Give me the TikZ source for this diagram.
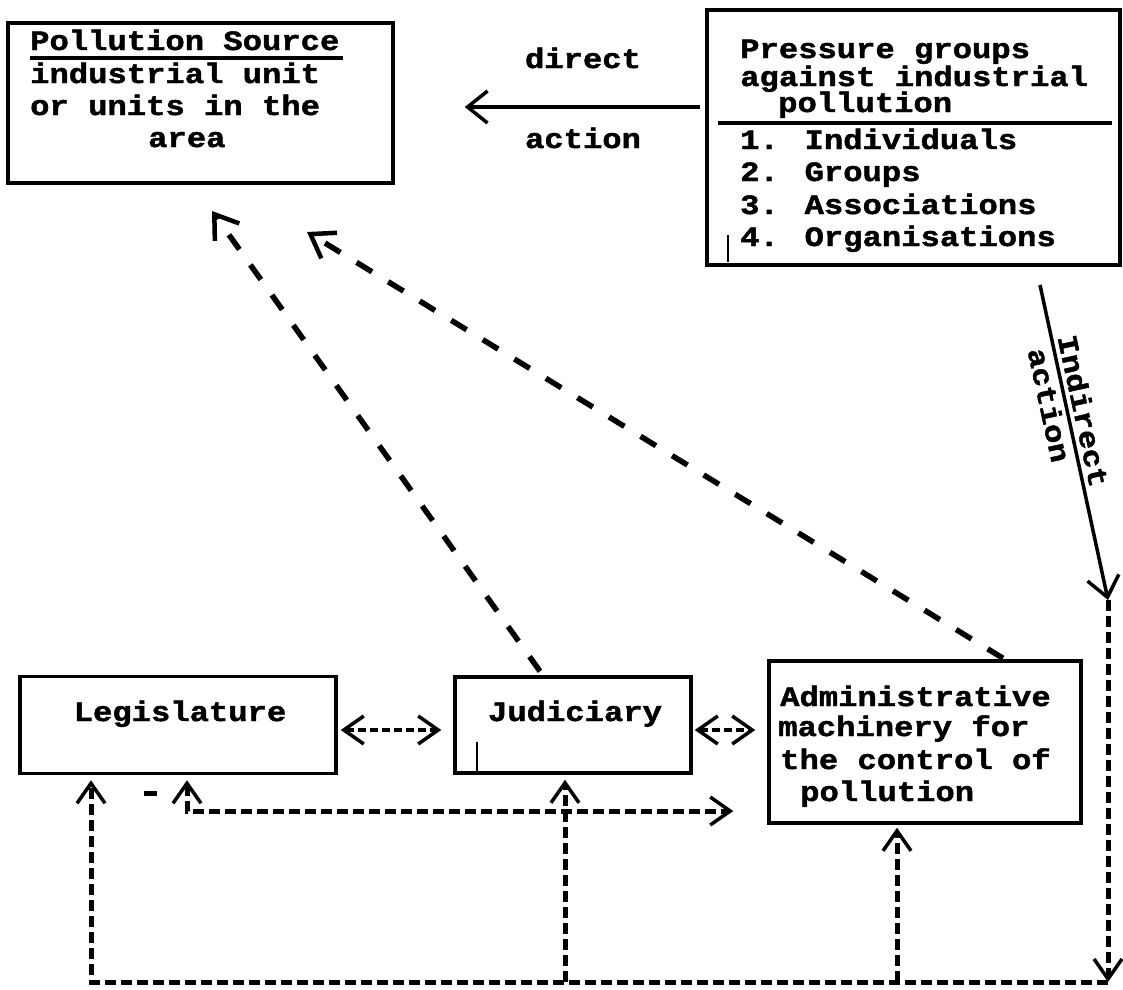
\documentclass[tikz,border=0pt]{standalone}
\usepackage{fontspec}
\newfontfamily\tw[FakeStretch=1.15,FakeBold=1.6]{Liberation Mono}
\usetikzlibrary{arrows.meta,calc}
\begin{document}
\begin{tikzpicture}[x=1pt,y=-1pt,
  box/.style={draw,line width=3.5pt,inner sep=0pt},
  txt/.style={font={\tw\bfseries\fontsize{28pt}{30pt}\selectfont},inner sep=0pt,anchor=base west},
  ctxt/.style={font={\tw\bfseries\fontsize{28pt}{30pt}\selectfont},inner sep=0pt},
  sol/.style={line width=3.5pt,-{Straight Barb[length=20pt,width=32pt]}},
  dsh/.style={line width=5pt,dash pattern=on 11pt off 5pt},
  dsm/.style={line width=4pt,dash pattern=on 8pt off 4pt},
  diag/.style={line width=5.5pt,dash pattern=on 18pt off 19pt},
  tipu/.style={-{Straight Barb[length=20pt,width=28pt,line width=3.5pt]}},
  tipb/.style={{Straight Barb[length=20pt,width=28pt,line width=3.5pt]}-{Straight Barb[length=20pt,width=28pt,line width=3.5pt]}},
  tipd/.style={-{Straight Barb[length=22pt,width=30pt,line width=4.5pt]}},
  tick/.style={line width=2pt}
]
\useasboundingbox[fill=white] (0,0) rectangle (1123,989);

% boxes
\node[box,minimum width=385pt,minimum height=160pt] (ps) at (200.5,103) {};
\node[box,minimum width=413pt,minimum height=255pt] (pg) at (913.5,137.5) {};
\node[box,minimum width=316pt,minimum height=97pt] (leg) at (178,725) {};
\node[box,minimum width=236pt,minimum height=96pt] (jud) at (573,725) {};
\node[box,minimum width=312pt,minimum height=162pt] (admin) at (925,742) {};

% texts
\node[txt] (ps1) at (30,50) {Pollution Source};
\draw[line width=3.5pt] (30,58) -- (343,58);
\node[txt] (ps2) at (30,83) {industrial unit};
\node[txt] (ps3) at (30,115) {or units in the};
\node[txt] (ps4) at (148,147) {area};

\node[txt] (pg1) at (740,58) {Pressure groups};
\node[txt] (pg2) at (740,86) {against industrial};
\node[txt] (pg3) at (778,112) {pollution};
\draw[line width=3.5pt] (718,123) -- (1112,123);
\node[txt] (pg4) at (740,149) {1. Individuals};
\node[txt] (pg5) at (740,181) {2. Groups};
\node[txt] (pg6) at (740,214) {3. Associations};
\node[txt] (pg7) at (740,246) {4. Organisations};
\draw[tick] (728,235) -- (728,262);

\node[txt,anchor=base] (lt) at (180,721) {Legislature};
\node[txt,anchor=base] (jt) at (575,721) {Judiciary};
\draw[tick] (477,742) -- (477,771);
\node[txt] (a1) at (780,706) {Administrative};
\node[txt] (a2) at (778,736) {machinery for};
\node[txt] (a3) at (780,769) {the control of};
\node[txt] (a4) at (800,801) {pollution};

% coordinates
\coordinate (yd) at (0,107);
\coordinate (ya) at (0,730);
\coordinate (ia) at (1040,285);
\coordinate (tr) at (1108,600);
\coordinate (br) at (1108,982);
\coordinate (bl) at (91,982);
\coordinate (bj) at (565,982);
\coordinate (ba) at (897,982);
\coordinate (c2) at (187,811);
\coordinate (t1) at (212,211);
\coordinate (t2) at (307,232);

% direct action
\draw[sol,shorten <=5pt,shorten >=70pt] (pg.west |- yd) -- (ps.east |- yd);
\node[ctxt] (ld) at (583,58) {direct};
\node[ctxt] (la) at (583,138) {action};

% indirect action
\draw[sol] (ia) -- (tr)
  node[ctxt,sloped,pos=0.41,above=4pt] (li1) {Indirect}
  node[ctxt,sloped,pos=0.37,below=4pt] (li2) {action};

% loop
\draw[dsh,tipu] (tr) -- (br);
\draw[dsh,tipu,shorten >=5pt] (br) -- (bl) -- (leg.south -| bl);
\draw[dsh,tipu,shorten >=5pt] (bj) -- (jud.south -| bj);
\draw[dsh,tipu,shorten >=3pt] (ba) -- (admin.south -| ba);
\draw[dsh,tipb,shorten <=5pt,shorten >=34pt] (leg.south -| c2) -- (c2) -- (admin.west |- c2);
\draw[line width=5pt] (144,793) -- (157,793);

% mutual arrows
\draw[dsm,tipb,shorten <=3pt,shorten >=12pt] (leg.east |- ya) -- (jud.west |- ya);
\draw[dsm,tipb,shorten <=2pt,shorten >=12pt] (jud.east |- ya) -- (admin.west |- ya);

% diagonals
\draw[diag,tipd] ($(jud.north)+(-33,-4)$) -- (t1);
\draw[diag,tipd] ($(admin.north)+(78,-1)$) -- (t2);
\end{tikzpicture}
\end{document}
